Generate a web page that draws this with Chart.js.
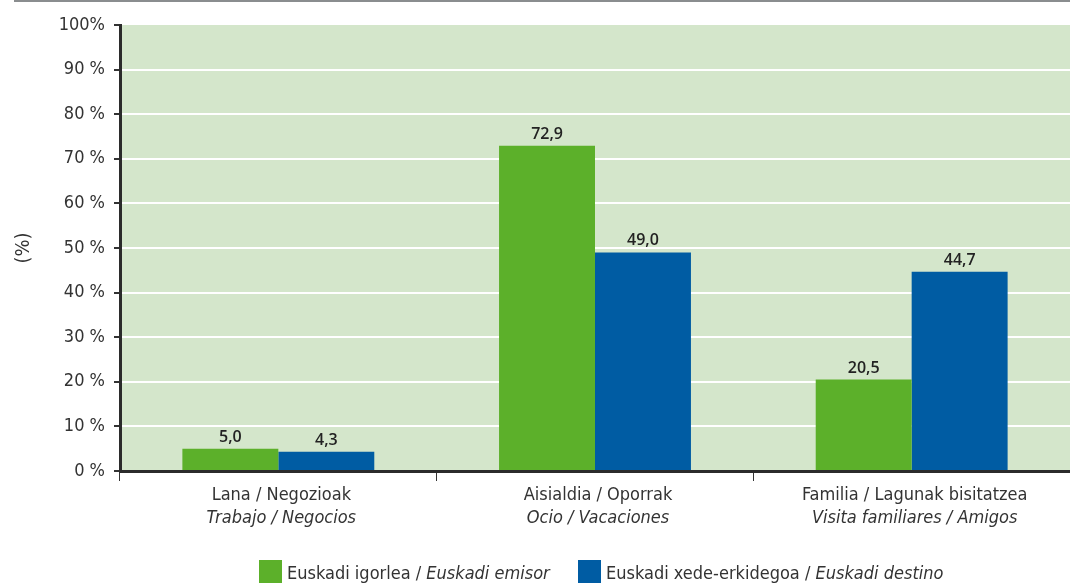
<!DOCTYPE html>
<html>
<head>
<meta charset="utf-8">
<script src="https://cdn.jsdelivr.net/npm/chart.js@4"></script>
<style>
  html, body { margin: 0; padding: 0; background: #fff; }
  #wrap { width: 1070px; height: 583px; }
</style>
</head>
<body>
<div id="wrap"><canvas id="chart" width="1070" height="583"></canvas></div>
<script>
// data
const catsEu = ['Lana / Negozioak', 'Aisialdia / Oporrak', 'Familia / Lagunak bisitatzea'];
const catsEs = ['Trabajo / Negocios', 'Ocio / Vacaciones', 'Visita familiares / Amigos'];
const emisor = [5.0, 72.9, 20.5];
const destino = [4.3, 49.0, 44.7];
const yTicks = [0, 10, 20, 30, 40, 50, 60, 70, 80, 90, 100];
const seriesEu = ['Euskadi igorlea / ', 'Euskadi xede-erkidegoa / '];
const seriesEs = ['Euskadi emisor', 'Euskadi destino'];

const GREEN = '#5cb02a';
const BLUE = '#005ca3';
const NARROW = '"Liberation Sans Narrow", "DejaVu Sans Condensed", "Arial Narrow", sans-serif';
const TXT = '#333333';

const comma = v => v.toFixed(1).replace('.', ',');

// background of the plot + grey rule at top
const backdrop = {
  id: 'backdrop',
  beforeDraw(chart) {
    const { ctx, chartArea: a } = chart;
    ctx.save();
    ctx.fillStyle = '#d4e6cb';
    ctx.fillRect(a.left, a.top, a.right - a.left, a.bottom - a.top);
    ctx.fillStyle = '#8a8d8f';
    ctx.fillRect(14, 0, chart.width - 14, 2);
    ctx.restore();
  }
};

// two-line category labels, value labels and the legend
const extras = {
  id: 'extras',
  afterDraw(chart) {
    const { ctx } = chart;
    const x = chart.scales.x;
    ctx.save();
    ctx.fillStyle = TXT;
    ctx.textAlign = 'center';
    ctx.textBaseline = 'alphabetic';
    catsEu.forEach((c, i) => {
      const px = x.getPixelForValue(i) + 3;
      ctx.font = '18px ' + NARROW;
      ctx.fillText(c, px, 500);
      ctx.font = 'italic 18px ' + NARROW;
      ctx.fillText(catsEs[i], px, 523);
    });

    ctx.font = '600 16px "Open Sans", sans-serif';
    ctx.fillStyle = '#222';
    chart.data.datasets.forEach((ds, di) => {
      chart.getDatasetMeta(di).data.forEach((bar, i) => {
        ctx.fillText(comma(ds.data[i]), bar.x, bar.y - 7);
      });
    });

    // legend
    const boxes = [259, 578];
    const cols = [GREEN, BLUE];
    ctx.textAlign = 'left';
    boxes.forEach((bx, i) => {
      ctx.fillStyle = cols[i];
      ctx.fillRect(bx, 560, 23, 23);
      ctx.fillStyle = TXT;
      ctx.font = '18px ' + NARROW;
      ctx.fillText(seriesEu[i], bx + 28, 579);
      const w = ctx.measureText(seriesEu[i]).width;
      ctx.font = 'italic 18px ' + NARROW;
      ctx.fillText(seriesEs[i], bx + 28 + w, 579);
    });
    ctx.restore();
  }
};

new Chart(document.getElementById('chart'), {
  type: 'bar',
  data: {
    labels: catsEu,
    datasets: [
      { label: seriesEu[0] + seriesEs[0], data: emisor, backgroundColor: GREEN },
      { label: seriesEu[1] + seriesEs[1], data: destino, backgroundColor: BLUE }
    ]
  },
  options: {
    responsive: false,
    animation: false,
    layout: { padding: { top: 25, right: -8, left: 0, bottom: 0 } },
    datasets: { bar: { categoryPercentage: 0.606, barPercentage: 1 } },
    plugins: { legend: { display: false }, tooltip: { enabled: false } },
    scales: {
      x: {
        offset: true,
        grid: { offset: true, drawOnChartArea: false, drawTicks: true, tickLength: 10, tickColor: '#333', tickWidth: 1 },
        border: { color: '#2b2b2b', width: 3 },
        ticks: { display: false },
        afterFit(s) { s.height = 112; }
      },
      y: {
        min: 0,
        max: 100,
        afterBuildTicks(s) { s.ticks = yTicks.map(v => ({ value: v })); },
        grid: { color: ctx => ctx.tick && (ctx.tick.value === 100 || ctx.tick.value === 0) ? 'rgba(0,0,0,0)' : '#ffffff', lineWidth: 2, drawTicks: true, tickLength: 6, tickColor: '#333' },
        border: { color: '#2b2b2b', width: 3 },
        ticks: {
          color: TXT,
          font: { family: NARROW, size: 18 },
          padding: 9,
          callback: v => v === 100 ? '100%' : v + ' %'
        },
        title: { display: true, text: '(%)', color: TXT, font: { family: NARROW, size: 20 }, padding: { top: 12, bottom: 0 } },
        afterFit(s) { s.width = 120; }
      }
    }
  },
  plugins: [backdrop, extras]
});
</script>
</body>
</html>
